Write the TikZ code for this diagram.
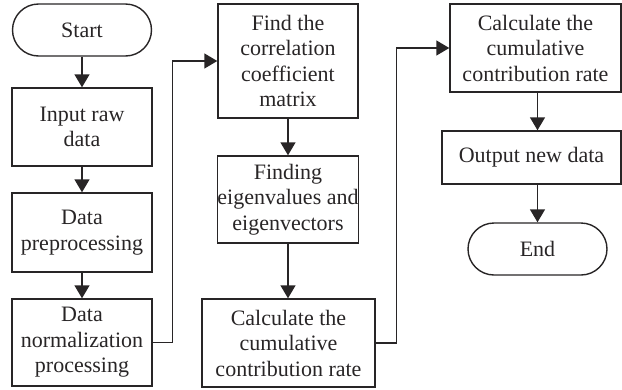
\documentclass[tikz,border=0pt]{standalone}
\usepackage{fontspec}
\setmainfont{Liberation Serif}
\usepackage{tikz}
\usetikzlibrary{positioning,arrows.meta,calc}
\definecolor{inkgray}{RGB}{40,37,38}
\tikzset{
  stepbox/.style={draw=inkgray, line width=1.4pt, align=center, inner sep=0pt,
    font=\fontsize{22}{25.5}\selectfont, text=inkgray},
  termbox/.style={stepbox, rounded corners=26pt, minimum width=139pt, minimum height=52pt},
  flow/.style={draw=inkgray, line width=1.4pt, -{Triangle[width=15pt,length=13pt]}}
}

\begin{document}
\begin{tikzpicture}[x=1pt, y=1pt]
\useasboundingbox (0,0) rectangle (622,-389);
% first column
\node[termbox] (start) at (82,-30) {Start};
\node[stepbox, minimum width=140pt, minimum height=78pt] (input) at (82,-127) {Input raw\\data};
\node[stepbox, minimum width=140pt, minimum height=79pt] (prep) at (82,-232.5) {Data\\preprocessing};
\node[stepbox, minimum width=140pt, minimum height=87pt] (norm) at (82,-342.5) {Data\\normalization\\processing};
% second column
\node[stepbox, minimum width=140pt, minimum height=114pt] (corr) at (288,-61) {Find the\\correlation\\coefficient\\matrix};
\node[stepbox, minimum width=140pt, minimum height=87pt] (eigen) at (288,-199.5) {Finding\\eigenvalues and\\eigenvectors};
\node[stepbox, minimum width=173pt, minimum height=88pt] (cumA) at (288.5,-343) {Calculate the\\cumulative\\contribution rate};
% third column
\node[stepbox, minimum width=171pt, minimum height=88pt] (cumB) at (535.5,-48) {Calculate the\\cumulative\\contribution rate};
\node[stepbox, minimum width=179pt, minimum height=53pt] (output) at (531.5,-157.5) {Output new data};
\node[termbox] (end) at (537.5,-249) {End};

\draw[flow] (start) -- (input);
\draw[flow] (input) -- (prep);
\draw[flow] (prep) -- (norm);
\draw[flow] (corr) -- (eigen);
\draw[flow] (eigen.south) -- (eigen.south |- cumA.north);
\draw[flow] (cumB.south -| end) -- (output.north -| end);
\draw[flow] (output.south -| end) -- (end);
\draw[flow] (norm.east) -- ++(20,0) |- (corr.west);
\draw[flow] (cumA.east) -- ++(21,0) |- (cumB.west);
\end{tikzpicture}
\end{document}
